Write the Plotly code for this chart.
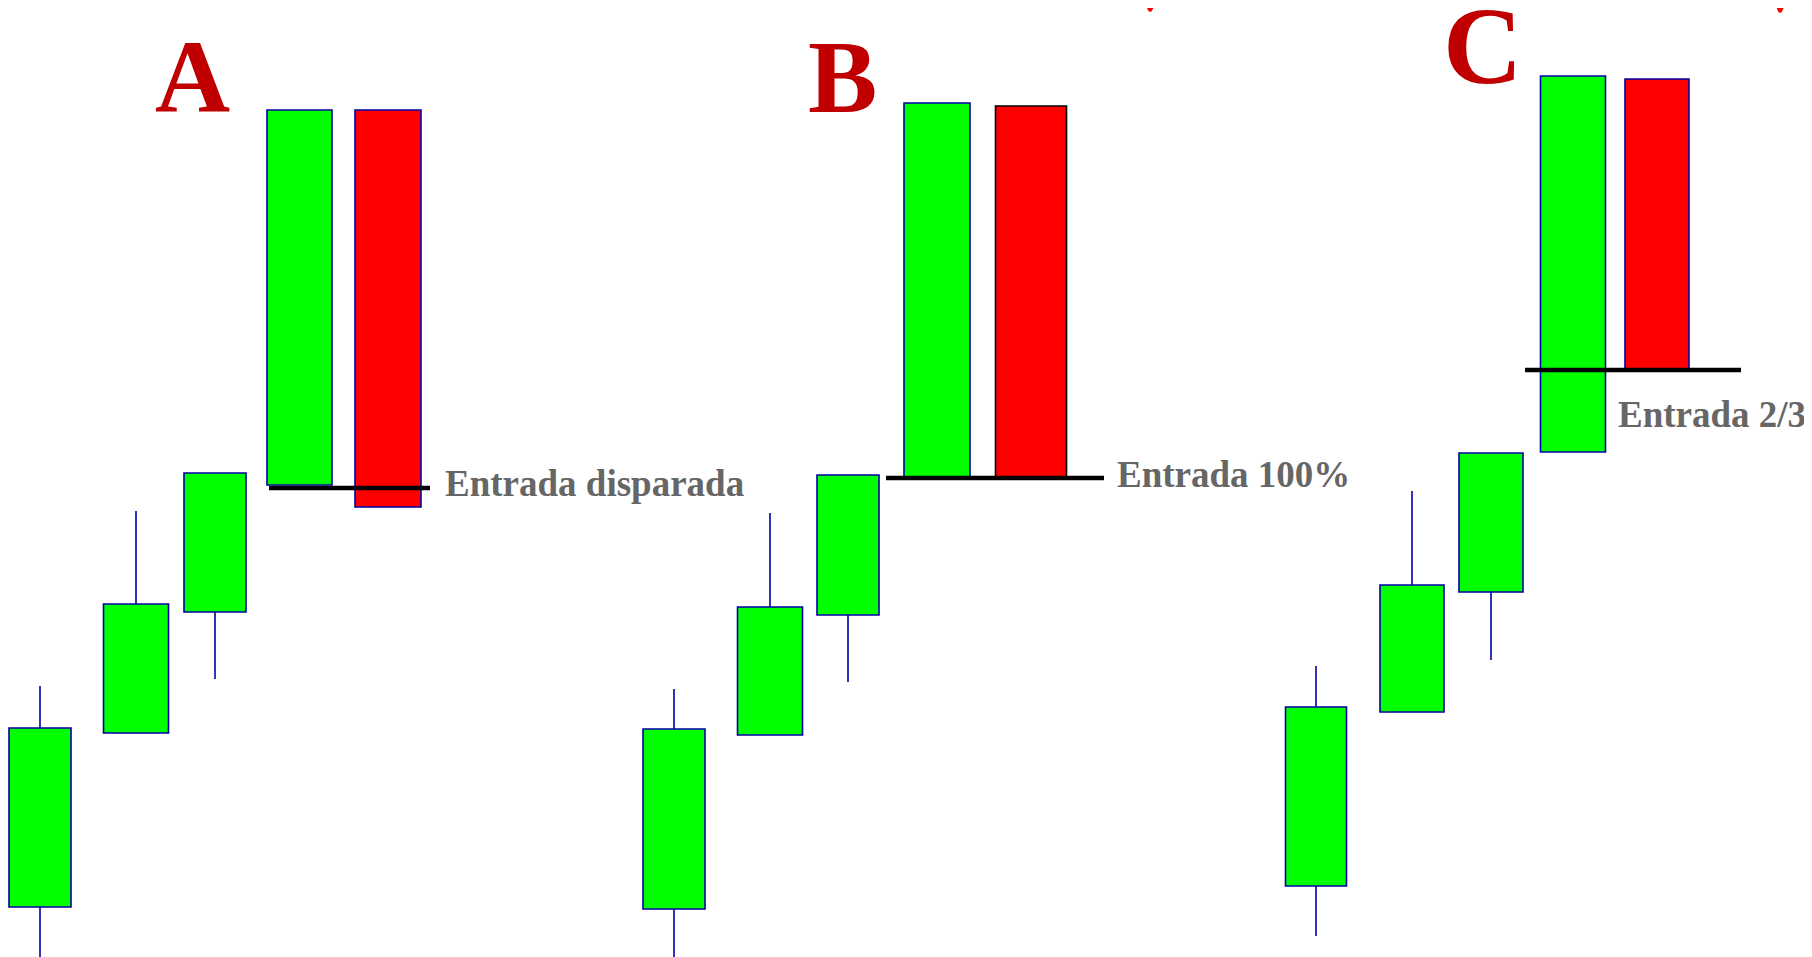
import plotly.graph_objects as go

# candle positions (x) and body widths, one list per setup
x_a = [40, 136, 215, 299.5, 388]
x_b = [674, 770, 848, 937, 1031]
x_c = [1316, 1412, 1491, 1573, 1657]
w_a = [62, 65, 62, 65, 66]
w_b = [62, 65, 62, 66, 71]
w_c = [61, 64, 64, 65, 64]

# OHLC (arbitrary price units)
open_a = [50, 224, 345, 472, 847]
close_a = [229, 353, 484, 847, 450]
high_a = [271, 446, 484, 847, 847]
low_a = [0, 224, 278, 472, 450]

open_b = [48, 222, 342, 479, 851]
close_b = [228, 350, 482, 854, 479]
high_b = [268, 444, 482, 854, 851]
low_b = [0, 222, 275, 479, 479]

open_c = [71, 245, 365, 505, 878]
close_c = [250, 372, 504, 881, 587]
high_c = [291, 466, 504, 881, 878]
low_c = [21, 245, 297, 505, 587]

# entry levels and the span of each line
entry_a = [469, 269, 430]
entry_b = [479, 886, 1104]
entry_c = [587, 1525, 1741]

labels = ["A", "B", "C"]
label_x = [192, 842, 1482]
label_y = [881, 881, 911]
label_size = [104, 104, 110]

notes = ["Entrada disparada", "Entrada 100%", "Entrada 2/3"]
note_x = [443, 1115, 1616]
note_y = [474, 483, 543]

GREEN = "#00ff00"
RED = "#ff0000"
BLUE = "#0000a8"

# page body has an 8px default margin, so shift the ranges to compensate
PAD = 8

fig = go.Figure()


def add_setup(xs, ws, o, c, h, l, red_edge):
    cols = [GREEN if cc >= oo else RED for oo, cc in zip(o, c)]
    edges = [BLUE] * len(xs)
    edges[-1] = red_edge
    fig.add_trace(go.Bar(x=xs, y=[cc - oo for oo, cc in zip(o, c)], base=o,
                         width=ws, marker=dict(color=cols,
                                               line=dict(color=edges, width=1.6)),
                         showlegend=False))
    # wicks, only the parts outside the body
    wx, wy = [], []
    for x, oo, cc, hi, lo in zip(xs, o, c, h, l):
        top, bot = max(oo, cc), min(oo, cc)
        if hi > top:
            wx += [x, x, None]
            wy += [top, hi, None]
        if lo < bot:
            wx += [x, x, None]
            wy += [lo, bot, None]
    fig.add_trace(go.Scatter(x=wx, y=wy, mode="lines",
                             line=dict(color=BLUE, width=1.6),
                             hoverinfo="skip", showlegend=False))


add_setup(x_a, w_a, open_a, close_a, high_a, low_a, BLUE)
add_setup(x_b, w_b, open_b, close_b, high_b, low_b, "#000000")
add_setup(x_c, w_c, open_c, close_c, high_c, low_c, BLUE)

for lvl in [entry_a, entry_b, entry_c]:
    fig.add_trace(go.Scatter(x=[lvl[1], lvl[2]], y=[lvl[0], lvl[0]], mode="lines",
                             line=dict(color="#000000", width=4.5),
                             hoverinfo="skip", showlegend=False))

for t, x, y, s in zip(labels, label_x, label_y, label_size):
    fig.add_annotation(x=x, y=y, text="<b>" + t + "</b>", showarrow=False,
                       xanchor="center", yanchor="middle",
                       font=dict(family="Liberation Serif", size=s, color="#c00000"))

for t, x, y in zip(notes, note_x, note_y):
    fig.add_annotation(x=x, y=y, text="<b>" + t + "</b>", showarrow=False,
                       xanchor="left", yanchor="middle",
                       font=dict(family="Liberation Serif", size=37, color="#666666"))

# cropped red marks at the very top edge
fig.add_trace(go.Scatter(x=[1145, 1150, 1156, None, 1775, 1780, 1786],
                         y=[957, 946, 957, None, 957, 945, 957], mode="lines",
                         line=dict(color=RED, width=3), hoverinfo="skip",
                         showlegend=False))

fig.update_layout(
    width=1812, height=957,
    margin=dict(l=0, r=0, t=0, b=0),
    paper_bgcolor="white", plot_bgcolor="white",
    barmode="overlay",
    xaxis=dict(range=[PAD, 1812 + PAD], visible=False, fixedrange=True),
    yaxis=dict(range=[-PAD, 957 - PAD], visible=False, fixedrange=True),
)

fig.write_html("out.html")
